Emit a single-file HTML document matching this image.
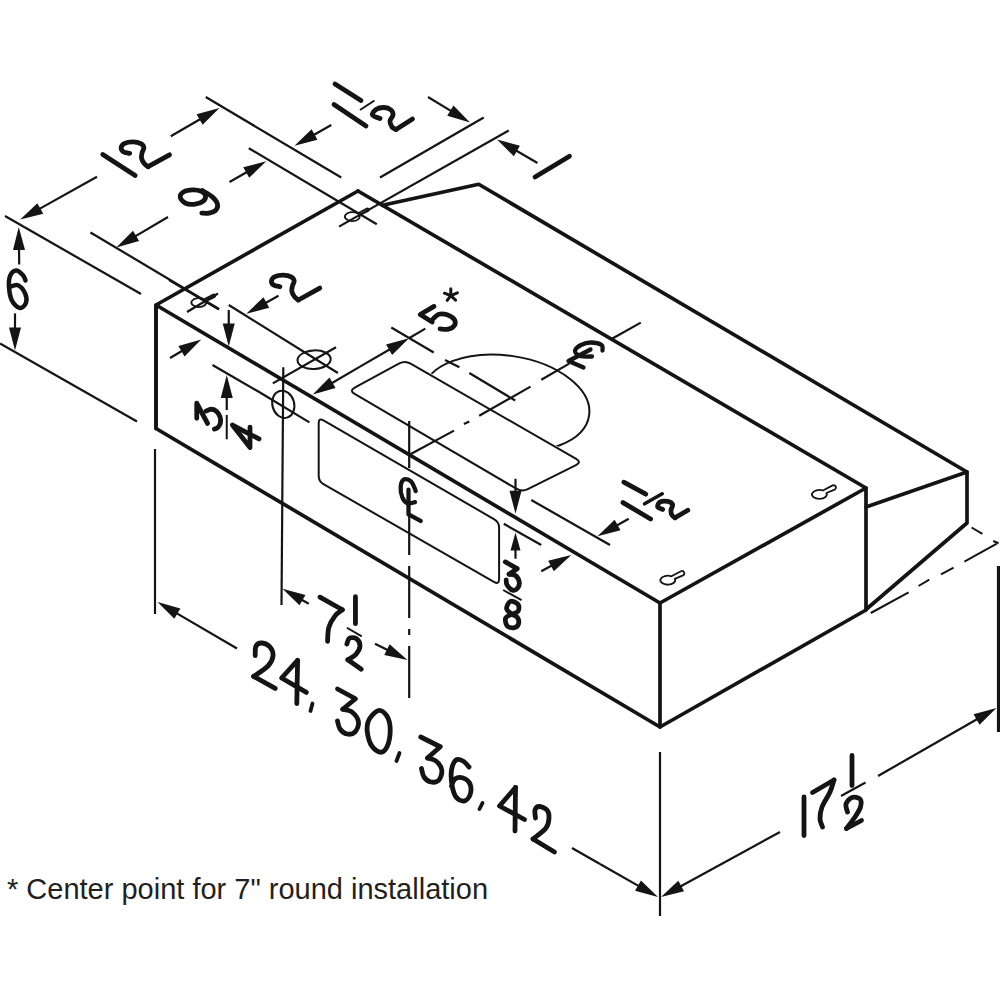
<!DOCTYPE html>
<html><head><meta charset="utf-8"><style>html,body{margin:0;padding:0;background:#fff;width:1000px;height:1000px;overflow:hidden}svg{display:block;font-family:"Liberation Sans",sans-serif}</style></head>
<body><svg width="1000" height="1000" viewBox="0 0 1000 1000"><polyline points="156.00,428.50 156.00,305.00 358.00,191.00" fill="none" stroke="#141414" stroke-width="3.70" stroke-linejoin="round" stroke-linecap="round"/>
<polygon points="156.00,305.00 660.00,603.00 660.00,727.00 156.00,428.50" fill="none" stroke="#141414" stroke-width="3.70" stroke-linejoin="round" stroke-linecap="round"/>
<polyline points="660.00,603.00 866.00,488.00 866.00,610.00 660.00,727.00" fill="none" stroke="#141414" stroke-width="3.70" stroke-linejoin="round" stroke-linecap="round"/>
<polyline points="358.00,191.00 866.00,488.00" fill="none" stroke="#141414" stroke-width="3.70" stroke-linejoin="round" stroke-linecap="round"/>
<polyline points="382.50,205.30 478.75,184.25 967.00,472.00 967.00,523.00 866.00,609.50" fill="none" stroke="#141414" stroke-width="3.70" stroke-linejoin="round" stroke-linecap="round"/>
<polyline points="967.00,472.00 866.00,507.00" fill="none" stroke="#141414" stroke-width="3.70" stroke-linejoin="round" stroke-linecap="round"/>
<line x1="971.60" y1="527.50" x2="982.40" y2="533.80" stroke="#141414" stroke-width="2.00" stroke-linecap="butt"/>
<line x1="993.20" y1="541.00" x2="998.60" y2="543.20" stroke="#141414" stroke-width="2.00" stroke-linecap="butt"/>
<line x1="996.80" y1="543.70" x2="964.40" y2="561.70" stroke="#141414" stroke-width="2.00" stroke-linecap="butt"/>
<line x1="953.60" y1="567.60" x2="941.00" y2="574.30" stroke="#141414" stroke-width="2.00" stroke-linecap="butt"/>
<line x1="929.30" y1="579.70" x2="918.50" y2="586.00" stroke="#141414" stroke-width="2.00" stroke-linecap="butt"/>
<line x1="908.60" y1="592.30" x2="870.80" y2="613.00" stroke="#141414" stroke-width="2.00" stroke-linecap="butt"/>
<line x1="998.50" y1="566.00" x2="998.50" y2="732.00" stroke="#141414" stroke-width="3.20" stroke-linecap="butt"/>
<line x1="5.00" y1="216.00" x2="141.00" y2="294.00" stroke="#141414" stroke-width="2.20" stroke-linecap="butt"/>
<line x1="0.00" y1="343.50" x2="137.00" y2="421.50" stroke="#141414" stroke-width="2.20" stroke-linecap="butt"/>
<line x1="19.20" y1="264.50" x2="18.99" y2="247.00" stroke="#141414" stroke-width="2.20" stroke-linecap="butt"/>
<polygon points="18.75,227.00 25.03,249.93 13.03,250.07" fill="#141414"/>
<line x1="15.00" y1="313.40" x2="15.00" y2="330.50" stroke="#141414" stroke-width="2.20" stroke-linecap="butt"/>
<polygon points="15.00,350.50 9.00,327.50 21.00,327.50" fill="#141414"/>
<path d="M 25.50 280.40 C 25.05 279.50 24.35 276.65 22.80 275.00 C 21.25 273.35 18.30 270.40 16.20 270.50 C 14.10 270.60 11.40 272.85 10.20 275.60 C 9.00 278.35 8.70 282.80 9.00 287.00 C 9.30 291.20 10.20 297.30 12.00 300.80 C 13.80 304.30 17.50 307.60 19.80 308.00 C 22.10 308.40 24.90 305.60 25.80 303.20 C 26.70 300.80 26.50 296.60 25.20 293.60 C 23.90 290.60 20.60 286.30 18.00 285.20 C 15.40 284.10 11.00 286.70 9.60 287.00" fill="none" stroke="#141414" stroke-width="4.50" stroke-linecap="round" stroke-linejoin="round"/>
<line x1="205.75" y1="97.00" x2="341.25" y2="177.50" stroke="#141414" stroke-width="2.20" stroke-linecap="butt"/>
<line x1="97.00" y1="176.75" x2="37.67" y2="209.86" stroke="#141414" stroke-width="2.20" stroke-linecap="butt"/>
<polygon points="20.20,219.60 37.36,203.15 43.21,213.63" fill="#141414"/>
<line x1="170.75" y1="136.25" x2="202.20" y2="118.03" stroke="#141414" stroke-width="2.20" stroke-linecap="butt"/>
<polygon points="219.50,108.00 202.61,124.72 196.59,114.34" fill="#141414"/>
<polyline points="102.75,154.50 135.20,175.50" fill="none" stroke="#141414" stroke-width="4.80" stroke-linecap="round" stroke-linejoin="round"/>
<path d="M 129.60 153.40 C 128.55 153.12 124.70 152.68 123.30 151.70 C 121.90 150.72 120.97 148.90 121.20 147.50 C 121.43 146.10 122.72 144.23 124.70 143.30 C 126.68 142.37 130.42 141.85 133.10 141.90 C 135.78 141.95 139.00 142.67 140.80 143.60 C 142.60 144.53 143.67 146.03 143.90 147.50 C 144.13 148.97 142.60 150.65 142.20 152.40 C 141.80 154.15 141.15 156.13 141.50 158.00 C 141.85 159.87 143.20 162.15 144.30 163.60 C 145.40 165.05 147.47 166.18 148.10 166.70" fill="none" stroke="#141414" stroke-width="4.80" stroke-linecap="round" stroke-linejoin="round"/>
<polyline points="148.10,166.70 169.50,154.80" fill="none" stroke="#141414" stroke-width="4.80" stroke-linecap="round" stroke-linejoin="round"/>
<line x1="90.50" y1="232.50" x2="219.00" y2="309.00" stroke="#141414" stroke-width="2.20" stroke-linecap="butt"/>
<line x1="248.80" y1="148.20" x2="376.80" y2="224.20" stroke="#141414" stroke-width="2.20" stroke-linecap="butt"/>
<line x1="168.00" y1="217.00" x2="133.48" y2="237.35" stroke="#141414" stroke-width="2.20" stroke-linecap="butt"/>
<polygon points="116.25,247.50 133.02,230.65 139.11,240.99" fill="#141414"/>
<line x1="229.50" y1="182.00" x2="248.83" y2="171.08" stroke="#141414" stroke-width="2.20" stroke-linecap="butt"/>
<polygon points="266.25,161.25 249.17,177.78 243.27,167.33" fill="#141414"/>
<path d="M 180.20 197.20 C 179.90 195.30 181.75 193.02 183.80 191.80 C 185.85 190.58 189.60 190.00 192.50 189.90 C 195.40 189.80 199.05 190.28 201.20 191.20 C 203.35 192.12 205.00 193.80 205.40 195.40 C 205.80 197.00 205.30 199.35 203.60 200.80 C 201.90 202.25 198.20 203.70 195.20 204.10 C 192.20 204.50 188.10 204.35 185.60 203.20 C 183.10 202.05 180.50 199.10 180.20 197.20 Z" fill="none" stroke="#141414" stroke-width="4.80" stroke-linecap="round" stroke-linejoin="round"/>
<path d="M 202.40 190.60 C 204.00 191.60 209.50 194.40 212.00 196.60 C 214.50 198.80 216.80 201.50 217.40 203.80 C 218.00 206.10 217.00 208.85 215.60 210.40 C 214.20 211.95 211.30 212.65 209.00 213.10 C 206.70 213.55 203.00 213.10 201.80 213.10" fill="none" stroke="#141414" stroke-width="4.80" stroke-linecap="round" stroke-linejoin="round"/>
<line x1="380.00" y1="177.50" x2="483.75" y2="117.50" stroke="#141414" stroke-width="2.20" stroke-linecap="butt"/>
<line x1="331.25" y1="125.00" x2="311.92" y2="135.92" stroke="#141414" stroke-width="2.20" stroke-linecap="butt"/>
<polygon points="294.50,145.75 311.58,129.22 317.48,139.67" fill="#141414"/>
<line x1="428.00" y1="97.00" x2="452.90" y2="112.12" stroke="#141414" stroke-width="2.20" stroke-linecap="butt"/>
<polygon points="470.00,122.50 447.23,115.69 453.45,105.43" fill="#141414"/>
<polyline points="334.00,104.50 366.00,126.00" fill="none" stroke="#141414" stroke-width="4.80" stroke-linecap="round" stroke-linejoin="round"/>
<polyline points="335.00,84.00 361.00,100.50" fill="none" stroke="#141414" stroke-width="4.80" stroke-linecap="round" stroke-linejoin="round"/>
<line x1="360.00" y1="110.00" x2="374.50" y2="100.50" stroke="#141414" stroke-width="2.00" stroke-linecap="butt"/>
<path d="M 380.00 118.50 C 378.75 117.92 373.17 116.50 372.50 115.00 C 371.83 113.50 374.08 110.75 376.00 109.50 C 377.92 108.25 381.50 107.42 384.00 107.50 C 386.50 107.58 389.50 108.75 391.00 110.00 C 392.50 111.25 393.17 113.17 393.00 115.00 C 392.83 116.83 390.17 119.00 390.00 121.00 C 389.83 123.00 391.00 125.58 392.00 127.00 C 393.00 128.42 395.33 129.08 396.00 129.50" fill="none" stroke="#141414" stroke-width="4.80" stroke-linecap="round" stroke-linejoin="round"/>
<polyline points="396.00,129.50 412.50,119.00" fill="none" stroke="#141414" stroke-width="4.80" stroke-linecap="round" stroke-linejoin="round"/>
<line x1="339.00" y1="226.60" x2="508.75" y2="130.50" stroke="#141414" stroke-width="2.20" stroke-linecap="butt"/>
<line x1="537.50" y1="163.00" x2="514.30" y2="149.54" stroke="#141414" stroke-width="2.20" stroke-linecap="butt"/>
<polygon points="497.00,139.50 519.90,145.85 513.88,156.23" fill="#141414"/>
<polyline points="535.00,177.00 569.50,156.25" fill="none" stroke="#141414" stroke-width="4.80" stroke-linecap="round" stroke-linejoin="round"/>
<path transform="translate(200.50 303.50)" d="M 3.6 -4.1 L 12.9 -9.0 A 1.4 1.4 0 0 1 14.2 -6.6 L 5.3 -2.4 A 7.4 4.5 0 1 1 3.6 -4.1 Z" fill="none" stroke="#141414" stroke-width="1.80" stroke-linejoin="round"/>
<path transform="translate(354.00 217.60)" d="M 3.6 -4.1 L 12.9 -9.0 A 1.4 1.4 0 0 1 14.2 -6.6 L 5.3 -2.4 A 7.4 4.5 0 1 1 3.6 -4.1 Z" fill="none" stroke="#141414" stroke-width="1.80" stroke-linejoin="round"/>
<path transform="translate(820.20 494.80)" d="M 2.8 -4.3 L 12.4 -9.4 A 2.3 2.3 0 0 1 14.4 -5.2 L 6.2 -1.8 A 7.4 4.5 0 1 1 2.8 -4.3 Z" fill="none" stroke="#141414" stroke-width="1.80" stroke-linejoin="round"/>
<path transform="translate(668.60 580.60)" d="M 2.8 -4.3 L 12.4 -9.4 A 2.3 2.3 0 0 1 14.4 -5.2 L 6.2 -1.8 A 7.4 4.5 0 1 1 2.8 -4.3 Z" fill="none" stroke="#141414" stroke-width="1.80" stroke-linejoin="round"/>
<line x1="169.00" y1="280.00" x2="219.00" y2="309.50" stroke="#141414" stroke-width="2.20" stroke-linecap="butt"/>
<line x1="187.00" y1="312.00" x2="218.00" y2="293.50" stroke="#141414" stroke-width="2.20" stroke-linecap="butt"/>
<line x1="228.75" y1="305.00" x2="337.90" y2="373.00" stroke="#141414" stroke-width="2.20" stroke-linecap="butt"/>
<line x1="278.50" y1="295.80" x2="263.73" y2="304.02" stroke="#141414" stroke-width="2.20" stroke-linecap="butt"/>
<polygon points="246.25,313.75 263.43,297.32 269.26,307.81" fill="#141414"/>
<line x1="170.00" y1="358.00" x2="184.04" y2="349.69" stroke="#141414" stroke-width="2.20" stroke-linecap="butt"/>
<polygon points="201.25,339.50 184.51,356.38 178.40,346.05" fill="#141414"/>
<path d="M 279.90 286.70 C 278.85 286.42 275.00 285.98 273.60 285.00 C 272.20 284.02 271.27 282.20 271.50 280.80 C 271.73 279.40 273.02 277.53 275.00 276.60 C 276.98 275.67 280.72 275.15 283.40 275.20 C 286.08 275.25 289.30 275.97 291.10 276.90 C 292.90 277.83 293.97 279.33 294.20 280.80 C 294.43 282.27 292.90 283.95 292.50 285.70 C 292.10 287.45 291.45 289.43 291.80 291.30 C 292.15 293.17 293.50 295.45 294.60 296.90 C 295.70 298.35 297.77 299.48 298.40 300.00" fill="none" stroke="#141414" stroke-width="4.80" stroke-linecap="round" stroke-linejoin="round"/>
<polyline points="298.40,300.00 319.80,288.10" fill="none" stroke="#141414" stroke-width="4.80" stroke-linecap="round" stroke-linejoin="round"/>
<ellipse cx="314.10" cy="359.70" rx="16.60" ry="9.30" transform="rotate(-3.0 314.10 359.70)" fill="none" stroke="#141414" stroke-width="2.00"/>
<line x1="272.80" y1="383.40" x2="336.00" y2="347.30" stroke="#141414" stroke-width="2.20" stroke-linecap="butt"/>
<ellipse cx="283.30" cy="404.30" rx="10.90" ry="13.80" transform="rotate(-15.0 283.30 404.30)" fill="none" stroke="#141414" stroke-width="2.00"/>
<line x1="260.00" y1="392.50" x2="309.40" y2="422.40" stroke="#141414" stroke-width="2.20" stroke-linecap="butt"/>
<line x1="212.50" y1="365.00" x2="260.00" y2="392.50" stroke="#141414" stroke-width="2.20" stroke-linecap="butt"/>
<line x1="283.30" y1="367.30" x2="281.50" y2="605.00" stroke="#141414" stroke-width="2.20" stroke-linecap="butt"/>
<line x1="228.75" y1="310.00" x2="228.75" y2="326.50" stroke="#141414" stroke-width="2.20" stroke-linecap="butt"/>
<polygon points="228.75,346.50 222.75,323.50 234.75,323.50" fill="#141414"/>
<line x1="226.75" y1="410.00" x2="226.75" y2="395.00" stroke="#141414" stroke-width="2.20" stroke-linecap="butt"/>
<polygon points="226.75,375.00 232.75,398.00 220.75,398.00" fill="#141414"/>
<line x1="226.75" y1="414.90" x2="226.75" y2="439.25" stroke="#141414" stroke-width="2.00" stroke-linecap="butt"/>
<polyline points="196.75,418.25 196.75,403.25 207.60,423.50" fill="none" stroke="#141414" stroke-width="4.80" stroke-linecap="round" stroke-linejoin="round"/>
<path d="M 206.10 411.10 C 206.92 410.79 209.31 409.25 211.00 409.25 C 212.69 409.25 214.75 409.85 216.25 411.10 C 217.75 412.35 219.31 414.75 220.00 416.75 C 220.69 418.75 220.78 421.29 220.40 423.10 C 220.03 424.91 218.75 426.60 217.75 427.60 C 216.75 428.60 214.96 428.85 214.40 429.10" fill="none" stroke="#141414" stroke-width="4.80" stroke-linecap="round" stroke-linejoin="round"/>
<polyline points="232.40,425.00 250.00,447.50 250.00,427.25" fill="none" stroke="#141414" stroke-width="4.80" stroke-linecap="round" stroke-linejoin="round"/>
<polyline points="233.50,425.75 259.00,438.90" fill="none" stroke="#141414" stroke-width="4.80" stroke-linecap="round" stroke-linejoin="round"/>
<line x1="360.00" y1="366.60" x2="329.94" y2="384.27" stroke="#141414" stroke-width="2.20" stroke-linecap="butt"/>
<polygon points="312.70,394.40 329.49,377.57 335.57,387.92" fill="#141414"/>
<line x1="360.00" y1="366.60" x2="391.70" y2="348.23" stroke="#141414" stroke-width="2.20" stroke-linecap="butt"/>
<polygon points="409.00,338.20 392.11,354.92 386.09,344.54" fill="#141414"/>
<line x1="409.00" y1="338.20" x2="425.30" y2="328.60" stroke="#141414" stroke-width="2.20" stroke-linecap="butt"/>
<polyline points="434.00,306.40 420.20,314.50 432.20,322.00" fill="none" stroke="#141414" stroke-width="4.80" stroke-linecap="round" stroke-linejoin="round"/>
<path d="M 433.00 319.00 C 433.97 318.20 436.43 314.90 438.80 314.20 C 441.17 313.50 444.60 313.90 447.20 314.80 C 449.80 315.70 453.20 317.80 454.40 319.60 C 455.60 321.40 455.40 324.00 454.40 325.60 C 453.40 327.20 450.80 328.65 448.40 329.20 C 446.00 329.75 441.40 328.95 440.00 328.90" fill="none" stroke="#141414" stroke-width="4.80" stroke-linecap="round" stroke-linejoin="round"/>
<polyline points="450.80,295.60 450.80,288.70" fill="none" stroke="#141414" stroke-width="3.00" stroke-linecap="round" stroke-linejoin="round"/>
<polyline points="450.80,295.60 447.20,300.40" fill="none" stroke="#141414" stroke-width="3.00" stroke-linecap="round" stroke-linejoin="round"/>
<polyline points="450.80,295.60 455.60,300.10" fill="none" stroke="#141414" stroke-width="3.00" stroke-linecap="round" stroke-linejoin="round"/>
<polyline points="450.80,295.60 444.50,293.20" fill="none" stroke="#141414" stroke-width="3.00" stroke-linecap="round" stroke-linejoin="round"/>
<polyline points="450.80,295.60 457.40,292.90" fill="none" stroke="#141414" stroke-width="3.00" stroke-linecap="round" stroke-linejoin="round"/>
<path d="M 399.29 363.40 Q 405.00 360.30 410.63 363.55 L 576.17 458.95 Q 581.80 462.20 575.98 465.10 L 527.82 489.10 Q 522.00 492.00 516.39 488.72 L 354.61 393.98 Q 349.00 390.70 354.71 387.60 Z" fill="none" stroke="#141414" stroke-width="2.00"/>
<defs><clipPath id="ce"><polygon points="380,150 720,150 720,539.9 380,343.9"/></clipPath></defs>
<g clip-path="url(#ce)"><ellipse cx="506" cy="403.2" rx="84" ry="47.6" transform="rotate(8.5 506 403.2)" fill="none" stroke="#141414" stroke-width="2.0"/></g>
<line x1="391.25" y1="327.50" x2="433.75" y2="352.50" stroke="#141414" stroke-width="2.20" stroke-linecap="butt"/>
<line x1="445.00" y1="360.00" x2="459.40" y2="367.20" stroke="#141414" stroke-width="2.20" stroke-linecap="butt"/>
<line x1="469.30" y1="373.00" x2="515.20" y2="400.50" stroke="#141414" stroke-width="2.20" stroke-linecap="butt"/>
<line x1="409.90" y1="454.50" x2="454.00" y2="430.60" stroke="#141414" stroke-width="2.20" stroke-linecap="butt"/>
<line x1="463.90" y1="423.90" x2="469.30" y2="421.60" stroke="#141414" stroke-width="2.20" stroke-linecap="butt"/>
<line x1="479.20" y1="415.80" x2="530.50" y2="386.60" stroke="#141414" stroke-width="2.20" stroke-linecap="butt"/>
<line x1="541.30" y1="379.80" x2="569.20" y2="363.60" stroke="#141414" stroke-width="2.20" stroke-linecap="butt"/>
<line x1="612.00" y1="338.80" x2="640.80" y2="322.60" stroke="#141414" stroke-width="2.20" stroke-linecap="butt"/>
<path d="M 592.00 356.50 C 590.00 356.42 582.83 356.92 580.00 356.00 C 577.17 355.08 574.83 352.83 575.00 351.00 C 575.17 349.17 578.33 346.42 581.00 345.00 C 583.67 343.58 587.58 342.50 591.00 342.50 C 594.42 342.50 599.58 343.67 601.50 345.00 C 603.42 346.33 602.33 349.58 602.50 350.50" fill="none" stroke="#141414" stroke-width="4.30" stroke-linecap="round" stroke-linejoin="round"/>
<polyline points="590.50,349.50 568.50,361.00 583.50,367.50" fill="none" stroke="#141414" stroke-width="4.30" stroke-linecap="round" stroke-linejoin="round"/>
<path d="M 318.70 423.10 Q 318.70 417.60 323.46 420.36 L 494.34 519.34 Q 499.10 522.10 499.10 527.60 L 499.10 579.30 Q 499.10 584.80 494.33 582.06 L 323.47 484.14 Q 318.70 481.40 318.70 475.90 Z" fill="none" stroke="#141414" stroke-width="2.00"/>
<line x1="409.20" y1="421.00" x2="409.20" y2="468.00" stroke="#141414" stroke-width="2.20" stroke-linecap="butt"/>
<line x1="409.20" y1="514.00" x2="409.20" y2="555.00" stroke="#141414" stroke-width="2.20" stroke-linecap="butt"/>
<line x1="409.20" y1="566.00" x2="409.20" y2="618.00" stroke="#141414" stroke-width="2.20" stroke-linecap="butt"/>
<line x1="409.20" y1="629.00" x2="409.20" y2="635.00" stroke="#141414" stroke-width="2.20" stroke-linecap="butt"/>
<line x1="409.20" y1="646.00" x2="409.20" y2="698.00" stroke="#141414" stroke-width="2.20" stroke-linecap="butt"/>
<path d="M 415.70 491.00 C 415.00 489.48 413.40 483.85 411.50 481.90 C 409.60 479.95 406.10 478.53 404.30 479.30 C 402.50 480.07 401.02 483.47 400.70 486.50 C 400.38 489.53 401.20 494.68 402.35 497.50 C 403.50 500.32 405.49 502.63 407.60 503.40 C 409.71 504.17 413.77 502.32 415.00 502.10" fill="none" stroke="#141414" stroke-width="4.30" stroke-linecap="round" stroke-linejoin="round"/>
<polyline points="408.50,489.70 408.50,514.40 420.60,520.90" fill="none" stroke="#141414" stroke-width="4.30" stroke-linecap="round" stroke-linejoin="round"/>
<line x1="515.50" y1="478.75" x2="515.50" y2="493.75" stroke="#141414" stroke-width="2.20" stroke-linecap="butt"/>
<polygon points="515.50,513.75 509.50,490.75 521.50,490.75" fill="#141414"/>
<line x1="503.75" y1="523.75" x2="541.25" y2="545.00" stroke="#141414" stroke-width="2.20" stroke-linecap="butt"/>
<line x1="515.50" y1="558.75" x2="515.50" y2="547.50" stroke="#141414" stroke-width="2.20" stroke-linecap="butt"/>
<polygon points="515.50,532.50 520.50,550.50 510.50,550.50" fill="#141414"/>
<line x1="503.20" y1="590.00" x2="521.50" y2="600.20" stroke="#141414" stroke-width="2.00" stroke-linecap="butt"/>
<polyline points="505.30,561.90 517.20,568.70 509.10,574.20" fill="none" stroke="#141414" stroke-width="4.80" stroke-linecap="round" stroke-linejoin="round"/>
<path d="M 509.10 574.20 C 510.17 574.42 513.80 574.15 515.50 575.50 C 517.20 576.85 519.02 580.10 519.30 582.30 C 519.58 584.50 518.40 587.42 517.20 588.70 C 516.00 589.98 513.80 590.63 512.10 590.00 C 510.40 589.37 507.98 586.60 507.00 584.90 C 506.02 583.20 506.33 580.65 506.20 579.80" fill="none" stroke="#141414" stroke-width="4.80" stroke-linecap="round" stroke-linejoin="round"/>
<path d="M 511.70 614.20 C 510.85 613.28 506.82 610.83 506.60 608.70 C 506.38 606.57 508.48 602.12 510.40 601.40 C 512.32 600.68 516.82 602.77 518.10 604.40 C 519.38 606.03 519.17 609.57 518.10 611.20 C 517.03 612.83 513.77 613.07 511.70 614.20 C 509.63 615.33 506.48 616.08 505.70 618.00 C 504.92 619.92 505.65 624.07 507.00 625.70 C 508.35 627.33 511.88 628.08 513.80 627.80 C 515.72 627.52 517.93 625.77 518.50 624.00 C 519.07 622.23 518.33 618.83 517.20 617.20 C 516.07 615.57 512.62 614.70 511.70 614.20" fill="none" stroke="#141414" stroke-width="4.80" stroke-linecap="round" stroke-linejoin="round"/>
<line x1="531.25" y1="500.00" x2="610.00" y2="545.00" stroke="#141414" stroke-width="2.20" stroke-linecap="butt"/>
<line x1="628.75" y1="518.75" x2="614.95" y2="526.48" stroke="#141414" stroke-width="2.20" stroke-linecap="butt"/>
<polygon points="597.50,536.25 614.64,519.78 620.50,530.25" fill="#141414"/>
<line x1="541.25" y1="571.25" x2="553.66" y2="564.53" stroke="#141414" stroke-width="2.20" stroke-linecap="butt"/>
<polygon points="571.25,555.00 553.88,571.23 548.17,560.68" fill="#141414"/>
<polyline points="623.80,482.20 645.80,494.20" fill="none" stroke="#141414" stroke-width="4.80" stroke-linecap="round" stroke-linejoin="round"/>
<polyline points="623.00,502.60 650.60,519.00" fill="none" stroke="#141414" stroke-width="4.80" stroke-linecap="round" stroke-linejoin="round"/>
<polyline points="644.60,503.80 662.20,493.80" fill="none" stroke="#141414" stroke-width="3.60" stroke-linecap="round" stroke-linejoin="round"/>
<path d="M 662.60 509.40 C 661.80 509.00 658.27 508.20 657.80 507.00 C 657.33 505.80 658.13 503.13 659.80 502.20 C 661.47 501.27 665.67 501.00 667.80 501.40 C 669.93 501.80 672.07 503.13 672.60 504.60 C 673.13 506.07 671.13 508.47 671.00 510.20 C 670.87 511.93 671.13 513.73 671.80 515.00 C 672.47 516.27 674.47 517.33 675.00 517.80" fill="none" stroke="#141414" stroke-width="4.80" stroke-linecap="round" stroke-linejoin="round"/>
<polyline points="675.00,517.80 687.80,510.20" fill="none" stroke="#141414" stroke-width="4.80" stroke-linecap="round" stroke-linejoin="round"/>
<line x1="308.75" y1="603.75" x2="299.86" y2="598.67" stroke="#141414" stroke-width="2.20" stroke-linecap="butt"/>
<polygon points="282.50,588.75 305.45,594.95 299.49,605.37" fill="#141414"/>
<line x1="375.00" y1="643.75" x2="389.61" y2="651.06" stroke="#141414" stroke-width="2.20" stroke-linecap="butt"/>
<polygon points="407.50,660.00 384.24,655.08 389.61,644.35" fill="#141414"/>
<polyline points="319.90,597.15 342.40,609.75" fill="none" stroke="#141414" stroke-width="4.80" stroke-linecap="round" stroke-linejoin="round"/>
<path d="M 342.40 609.75 C 341.20 610.73 337.45 612.68 335.20 615.60 C 332.95 618.52 330.17 623.02 328.90 627.30 C 327.62 631.57 327.77 638.92 327.55 641.25" fill="none" stroke="#141414" stroke-width="4.80" stroke-linecap="round" stroke-linejoin="round"/>
<polyline points="355.45,596.70 355.45,623.70" fill="none" stroke="#141414" stroke-width="4.80" stroke-linecap="round" stroke-linejoin="round"/>
<line x1="346.90" y1="627.75" x2="361.75" y2="636.30" stroke="#141414" stroke-width="2.00" stroke-linecap="butt"/>
<path d="M 346.90 644.00 C 347.35 643.02 347.95 638.93 349.60 638.10 C 351.25 637.27 355.07 637.65 356.80 639.00 C 358.53 640.35 360.15 643.65 360.00 646.20 C 359.85 648.75 357.93 652.05 355.90 654.30 C 353.87 656.55 349.15 658.80 347.80 659.70" fill="none" stroke="#141414" stroke-width="4.80" stroke-linecap="round" stroke-linejoin="round"/>
<polyline points="347.80,659.70 361.30,669.20" fill="none" stroke="#141414" stroke-width="4.80" stroke-linecap="round" stroke-linejoin="round"/>
<line x1="155.00" y1="449.00" x2="155.00" y2="614.00" stroke="#141414" stroke-width="2.20" stroke-linecap="butt"/>
<line x1="237.00" y1="648.50" x2="174.76" y2="612.10" stroke="#141414" stroke-width="2.20" stroke-linecap="butt"/>
<polygon points="157.50,602.00 180.38,608.43 174.32,618.79" fill="#141414"/>
<line x1="572.00" y1="848.00" x2="600.00" y2="864.00" stroke="#141414" stroke-width="2.20" stroke-linecap="butt"/>
<line x1="600.00" y1="864.00" x2="640.62" y2="887.11" stroke="#141414" stroke-width="2.20" stroke-linecap="butt"/>
<polygon points="658.00,897.00 635.04,890.84 640.98,880.41" fill="#141414"/>
<line x1="660.00" y1="752.00" x2="660.00" y2="916.00" stroke="#141414" stroke-width="2.20" stroke-linecap="butt"/>
<path d="M 255.20 655.60 C 255.33 654.00 254.87 648.10 256.00 646.00 C 257.13 643.90 259.67 642.83 262.00 643.00 C 264.33 643.17 268.17 644.83 270.00 647.00 C 271.83 649.17 273.33 652.83 273.00 656.00 C 272.67 659.17 271.23 662.60 268.00 666.00 C 264.77 669.40 256.00 674.67 253.60 676.40" fill="none" stroke="#141414" stroke-width="4.80" stroke-linecap="round" stroke-linejoin="round"/>
<polyline points="253.60,676.40 275.20,688.40" fill="none" stroke="#141414" stroke-width="4.80" stroke-linecap="round" stroke-linejoin="round"/>
<polyline points="297.60,660.40 281.60,678.00 306.40,692.40" fill="none" stroke="#141414" stroke-width="4.80" stroke-linecap="round" stroke-linejoin="round"/>
<polyline points="297.60,660.40 296.80,703.60" fill="none" stroke="#141414" stroke-width="4.80" stroke-linecap="round" stroke-linejoin="round"/>
<polyline points="312.50,703.50 310.50,711.00" fill="none" stroke="#141414" stroke-width="3.80" stroke-linecap="round" stroke-linejoin="round"/>
<polyline points="337.50,689.00 355.50,698.75 342.75,709.25" fill="none" stroke="#141414" stroke-width="4.80" stroke-linecap="round" stroke-linejoin="round"/>
<path d="M 342.75 709.25 C 344.29 709.71 349.38 709.88 352.00 712.00 C 354.62 714.12 358.00 718.67 358.50 722.00 C 359.00 725.33 356.92 730.00 355.00 732.00 C 353.08 734.00 349.50 734.50 347.00 734.00 C 344.50 733.50 341.58 731.17 340.00 729.00 C 338.42 726.83 337.92 722.33 337.50 721.00" fill="none" stroke="#141414" stroke-width="4.80" stroke-linecap="round" stroke-linejoin="round"/>
<path d="M 378.75 710.50 C 382.08 709.83 386.12 713.92 388.00 718.00 C 389.88 722.08 390.50 729.67 390.00 735.00 C 389.50 740.33 387.17 747.33 385.00 750.00 C 382.83 752.67 379.67 752.67 377.00 751.00 C 374.33 749.33 370.50 744.83 369.00 740.00 C 367.50 735.17 366.38 726.92 368.00 722.00 C 369.62 717.08 375.42 711.17 378.75 710.50 Z" fill="none" stroke="#141414" stroke-width="4.80" stroke-linecap="round" stroke-linejoin="round"/>
<polyline points="399.50,753.00 396.50,761.00" fill="none" stroke="#141414" stroke-width="3.80" stroke-linecap="round" stroke-linejoin="round"/>
<polyline points="420.75,737.00 440.25,746.75 427.50,758.00" fill="none" stroke="#141414" stroke-width="4.80" stroke-linecap="round" stroke-linejoin="round"/>
<path d="M 427.50 758.00 C 428.92 758.50 433.62 759.00 436.00 761.00 C 438.38 763.00 441.25 766.83 441.75 770.00 C 442.25 773.17 440.79 778.00 439.00 780.00 C 437.21 782.00 433.50 782.50 431.00 782.00 C 428.50 781.50 425.58 779.25 424.00 777.00 C 422.42 774.75 421.92 769.92 421.50 768.50" fill="none" stroke="#141414" stroke-width="4.80" stroke-linecap="round" stroke-linejoin="round"/>
<path d="M 469.00 767.00 C 468.00 766.00 465.17 762.17 463.00 761.00 C 460.83 759.83 457.92 758.50 456.00 760.00 C 454.08 761.50 452.17 765.83 451.50 770.00 C 450.83 774.17 451.25 780.50 452.00 785.00 C 452.75 789.50 454.00 794.33 456.00 797.00 C 458.00 799.67 461.67 801.33 464.00 801.00 C 466.33 800.67 469.00 797.83 470.00 795.00 C 471.00 792.17 471.17 786.83 470.00 784.00 C 468.83 781.17 465.50 778.83 463.00 778.00 C 460.50 777.17 456.92 777.67 455.00 779.00 C 453.08 780.33 452.08 784.83 451.50 786.00" fill="none" stroke="#141414" stroke-width="4.80" stroke-linecap="round" stroke-linejoin="round"/>
<polyline points="482.50,803.00 479.50,809.00" fill="none" stroke="#141414" stroke-width="3.80" stroke-linecap="round" stroke-linejoin="round"/>
<polyline points="515.50,787.50 499.50,806.00 524.50,819.50" fill="none" stroke="#141414" stroke-width="4.80" stroke-linecap="round" stroke-linejoin="round"/>
<polyline points="515.50,787.50 515.00,831.00" fill="none" stroke="#141414" stroke-width="4.80" stroke-linecap="round" stroke-linejoin="round"/>
<path d="M 535.50 818.00 C 535.42 816.67 534.42 811.92 535.00 810.00 C 535.58 808.08 537.00 806.50 539.00 806.50 C 541.00 806.50 545.33 808.08 547.00 810.00 C 548.67 811.92 549.17 815.00 549.00 818.00 C 548.83 821.00 548.67 824.50 546.00 828.00 C 543.33 831.50 535.17 837.17 533.00 839.00" fill="none" stroke="#141414" stroke-width="4.80" stroke-linecap="round" stroke-linejoin="round"/>
<polyline points="533.00,839.00 554.50,852.00" fill="none" stroke="#141414" stroke-width="4.80" stroke-linecap="round" stroke-linejoin="round"/>
<line x1="780.00" y1="832.00" x2="678.55" y2="887.41" stroke="#141414" stroke-width="2.20" stroke-linecap="butt"/>
<polygon points="661.00,897.00 678.31,880.71 684.06,891.24" fill="#141414"/>
<line x1="878.00" y1="776.00" x2="979.15" y2="717.95" stroke="#141414" stroke-width="2.20" stroke-linecap="butt"/>
<polygon points="996.50,708.00 979.54,724.65 973.56,714.24" fill="#141414"/>
<polyline points="804.00,797.00 804.00,835.50" fill="none" stroke="#141414" stroke-width="4.80" stroke-linecap="round" stroke-linejoin="round"/>
<polyline points="812.50,792.50 834.00,780.00" fill="none" stroke="#141414" stroke-width="4.80" stroke-linecap="round" stroke-linejoin="round"/>
<path d="M 834.00 780.00 C 833.33 782.00 832.00 787.50 830.00 792.00 C 828.00 796.50 823.67 802.50 822.00 807.00 C 820.33 811.50 819.92 815.67 820.00 819.00 C 820.08 822.33 822.08 825.67 822.50 827.00" fill="none" stroke="#141414" stroke-width="4.80" stroke-linecap="round" stroke-linejoin="round"/>
<polyline points="852.00,755.50 852.00,785.50" fill="none" stroke="#141414" stroke-width="4.80" stroke-linecap="round" stroke-linejoin="round"/>
<line x1="841.00" y1="796.00" x2="865.50" y2="782.50" stroke="#141414" stroke-width="2.00" stroke-linecap="butt"/>
<path d="M 847.50 812.00 C 847.25 810.67 845.25 806.42 846.00 804.00 C 846.75 801.58 849.67 798.33 852.00 797.50 C 854.33 796.67 858.58 797.42 860.00 799.00 C 861.42 800.58 861.33 804.00 860.50 807.00 C 859.67 810.00 857.33 813.42 855.00 817.00 C 852.67 820.58 847.92 826.58 846.50 828.50" fill="none" stroke="#141414" stroke-width="4.80" stroke-linecap="round" stroke-linejoin="round"/>
<polyline points="846.50,828.50 861.50,820.50" fill="none" stroke="#141414" stroke-width="4.80" stroke-linecap="round" stroke-linejoin="round"/>
<text x="7" y="898.5" font-family="Liberation Sans" font-size="29" fill="#231f20">* Center point for 7" round installation</text></svg></body></html>
